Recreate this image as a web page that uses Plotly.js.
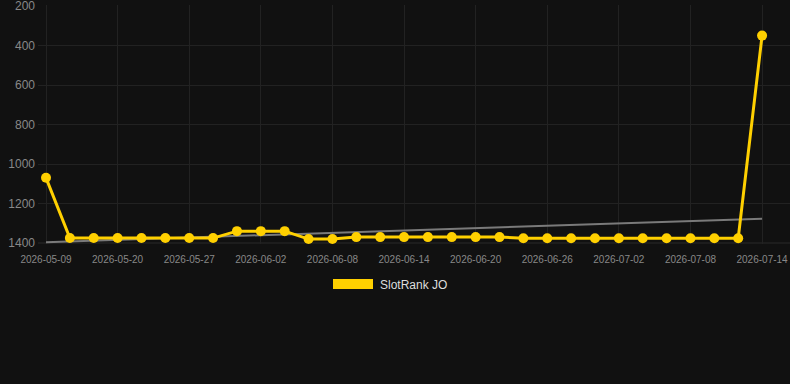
<!DOCTYPE html>
<html>
<head>
<meta charset="utf-8">
<script src="https://cdn.plot.ly/plotly-3.0.1.min.js"></script>
<style>
html,body{margin:0;padding:0;background:#111111;}
#chart{width:790px;height:384px;}
</style>
</head>
<body>
<div id="chart"></div>
<script>
const dates = [
  "2026-05-09","2026-05-13","2026-05-16","2026-05-20","2026-05-22","2026-05-25",
  "2026-05-27","2026-05-29","2026-05-31","2026-06-02","2026-06-04","2026-06-06",
  "2026-06-08","2026-06-10","2026-06-12","2026-06-14","2026-06-16","2026-06-18",
  "2026-06-20","2026-06-22","2026-06-24","2026-06-26","2026-06-28","2026-06-30",
  "2026-07-02","2026-07-04","2026-07-06","2026-07-08","2026-07-10","2026-07-12",
  "2026-07-14"
];
const rankValues = [
  1070,1375,1375,1375,1375,1375,1375,1375,1340,1340,1340,1380,1380,
  1370,1370,1370,1370,1370,1370,1370,
  1376,1376,1376,1376,1376,1376,1376,1376,1376,1376,
  350
];
const trendDates = ["2026-05-09","2026-07-14"];
const trendValues = [1396,1277];
const tickDates = ["2026-05-09","2026-05-20","2026-05-27","2026-06-02","2026-06-08",
  "2026-06-14","2026-06-20","2026-06-26","2026-07-02","2026-07-08","2026-07-14"];
const yTicks = [200,400,600,800,1000,1200,1400];
const seriesName = "SlotRank JO";
const lineColor = "#ffd000";

const L = 38, T = 5, W = 790, H = 384, B = 244;
const pw = W - L, ph = B - T;

const traces = [
  {
    x: trendDates, y: trendValues, type: "scatter", mode: "lines",
    line: {color: "#7a7a7a", width: 2}, hoverinfo: "skip", showlegend: false
  },
  {
    x: dates, y: rankValues, type: "scatter", mode: "lines+markers",
    name: seriesName,
    line: {color: lineColor, width: 3},
    marker: {color: lineColor, size: 10},
    showlegend: false, cliponaxis: false
  }
];

const layout = {
  width: W, height: H,
  paper_bgcolor: "#111111", plot_bgcolor: "#111111",
  margin: {l: L, r: 0, t: T, b: H - B, pad: 0},
  font: {family: "Liberation Sans, Arial, sans-serif", color: "#888888"},
  showlegend: false,
  xaxis: {
    type: "category",
    categoryorder: "array", categoryarray: dates,
    range: [-0.335, 31.17],
    tickmode: "array", tickvals: tickDates, ticktext: tickDates,
    showgrid: true, gridcolor: "#222222", gridwidth: 1,
    zeroline: false, showline: false, ticks: "",
    tickfont: {size: 10, color: "#888888"},
    ticklabelstandoff: 8,
    ticklabeloverflow: "allow",
    fixedrange: true
  },
  yaxis: {
    range: [1405, 195],
    tickmode: "array", tickvals: yTicks,
    showgrid: true, gridcolor: "#222222", gridwidth: 1,
    zeroline: false, showline: false, ticks: "",
    tickfont: {size: 12, color: "#888888"},
    ticklabelstandoff: 2,
    ticklabeloverflow: "allow",
    fixedrange: true
  },
  shapes: [
    {type: "line", xref: "paper", yref: "y", x0: 0, x1: 1,
     y0: 1400, y1: 1400, line: {color: "#2a2a2a", width: 1}, layer: "below"},
    {type: "rect", xref: "paper", yref: "paper",
     x0: (333 - L) / pw, x1: (373 - L) / pw,
     y0: (B - 289) / ph, y1: (B - 279) / ph,
     fillcolor: lineColor, line: {width: 0}}
  ],
  annotations: [
    {xref: "paper", yref: "paper", x: (378 - L) / pw, y: (B - 284.5) / ph,
     xanchor: "left", yanchor: "middle", showarrow: false,
     text: seriesName, font: {size: 12, color: "#dddddd"}}
  ]
};

Plotly.newPlot("chart", traces, layout, {displayModeBar: false, staticPlot: true});
</script>
</body>
</html>
